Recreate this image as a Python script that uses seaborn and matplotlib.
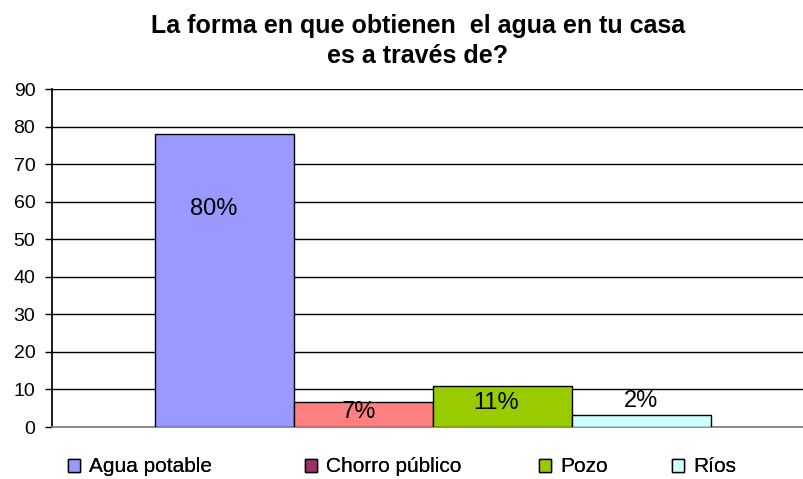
import matplotlib
matplotlib.use("Agg")
import matplotlib.pyplot as plt
import seaborn as sns
import pandas as pd
from matplotlib.patches import Patch

# Data
categories = ["Agua potable", "Chorro público", "Pozo", "Ríos"]
values = [78, 6.7, 10.8, 3.3]
labels = ["80%", "7%", "11%", "2%"]
label_y = [58, 4, 6.3, 6.9]
bar_colors = ["#9999FF", "#FF8080", "#99CC00", "#CCFFFF"]
legend_colors = ["#9999FF", "#993366", "#99CC00", "#CCFFFF"]

sns.set_theme(style="white")
plt.rcParams['font.family'] = ['Liberation Sans', 'DejaVu Sans']
plt.rcParams['text.color'] = 'black'
plt.rcParams['ytick.color'] = 'black'

df = pd.DataFrame({"grupo": [""] * 4, "forma": categories, "valor": values})

fig = plt.figure(figsize=(8.04, 4.79), dpi=100)
ax = fig.add_axes([52 / 804, 52 / 479, 751 / 804, 338 / 479])

sns.barplot(data=df, x="grupo", y="valor", hue="forma", hue_order=categories,
            palette=bar_colors, width=0.74, saturation=1, edgecolor="black",
            linewidth=1, ax=ax, legend=False, zorder=3)

ax.set_ylim(0, 90)
ax.set_yticks(range(0, 91, 10))
ax.set_xlim(-0.507, 0.493)
ax.set_xticks([])
ax.set_xlabel("")
ax.set_ylabel("")
ax.grid(axis="y", color="black", linewidth=1, zorder=0)
for s in ["top", "right"]:
    ax.spines[s].set_visible(False)
ax.spines["left"].set_color("black")
ax.spines["bottom"].set_color("#808080")
ax.tick_params(axis="y", length=5, width=1, color="black", direction="out",
               labelsize=14, pad=7, left=True)

# bar labels (Excel puts them a bit left of centre)
label_dx = [-11, -4, -6, 0]
px = 1.0 / 751  # one pixel in x data units
for patch, lab, ly, dx in zip(ax.patches, labels, label_y, label_dx):
    cx = patch.get_x() + patch.get_width() / 2 + dx * px
    ax.text(cx, ly, lab, ha="center", va="center", fontsize=17, color="black", zorder=4)

fig.text(418 / 804, 1 - 41 / 479, "La forma en que obtienen  el agua en tu casa\nes a través de?",
         ha="center", va="center", fontsize=18, fontweight="bold", linespacing=1.3)

legend_x = [68, 305, 539, 672]
for cat, col, lx in zip(categories, legend_colors, legend_x):
    h = Patch(facecolor=col, edgecolor="black", linewidth=1)
    leg = fig.legend([h], [cat], loc="center left", bbox_to_anchor=(lx / 804, 1 - 467 / 479),
                     frameon=False, fontsize=15, handlelength=0.58, handleheight=0.58,
                     handletextpad=0.43, borderpad=0, borderaxespad=0)
    fig.add_artist(leg)

fig.savefig("out.png", dpi=100)
